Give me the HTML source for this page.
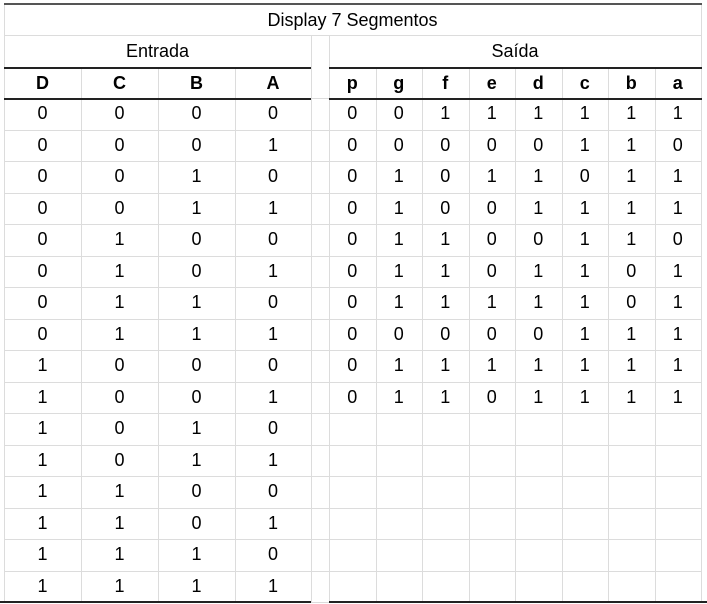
<!DOCTYPE html>
<html><head><meta charset="utf-8"><style>
body{margin:0;width:707px;height:604px;background:#fff;overflow:hidden;font-family:"Liberation Sans",Arial,sans-serif;}
#t{position:absolute;left:0;top:0;width:707px;height:604px;}
.c{position:absolute;box-sizing:border-box;display:flex;align-items:center;justify-content:center;font-size:18px;color:#000;}
.ln{position:absolute;}
</style></head><body>
<div id="t"></div>
<script>
const inputHeaders=['D','C','B','A'];
const outputHeaders=['p','g','f','e','d','c','b','a'];
const inputRows=[
'0000','0001','0010','0011','0100','0101','0110','0111',
'1000','1001','1010','1011','1100','1101','1110','1111'];
const outputRows=[
'00111111','00000110','01011011','01001111','01100110',
'01101101','01111101','00000111','01111111','01101111'];
const t=document.getElementById('t');
const inX=[4,81,158,235,311];
const outX=[329,375.5,422,468.5,515,561.5,608,654.5,701];
const rowTop=98,rowH=31.5;
function cell(x,y,w,h,txt,name,bold){
  const d=document.createElement('div');d.className='c';
  d.style.left=x+'px';d.style.top=y+'px';d.style.width=w+'px';d.style.height=h+'px';
  if(bold)d.style.fontWeight='bold';
  d.textContent=txt;
  
  
  t.appendChild(d);
}
function line(x,y,w,h,col,name){
  const d=document.createElement('div');d.className='ln';
  d.style.left=x+'px';d.style.top=y+'px';d.style.width=w+'px';d.style.height=h+'px';d.style.background=col;
  
  
  t.appendChild(d);
}
const G='#dcdcdc';
const yEnd=rowTop+16*rowH;
for(let r=0;r<=16;r++){const y=Math.round(rowTop+r*rowH);line(4,y,697,1,G,'row-line');}
line(4,35,697,1,G,'row-line');
// edge / gap lines full height from 35
[4,311,329,701].forEach(x=>line(x,35,1,yEnd-35,G,'col-line'));
// internal lines from 67
[...inX.slice(1,4),...outX.slice(1,8)].forEach(x=>line(Math.round(x),67,1,yEnd-67,G,'col-line'));
line(4,4,1,31,G,'col-line');line(701,4,1,31,G,'col-line');
line(4,3,698,2,'#555','top-border');
line(4,67,307,2,'#222','entrada-underline');line(329,67,373,2,'#222','saida-underline');
line(4,98,307,2,'#222','header-underline');line(329,98,373,2,'#222','header-underline');
line(0,yEnd-1,311,2,'#222','bottom-border');line(329,yEnd-1,378,2,'#222','bottom-border');
cell(4,5,697,30,'Display 7 Segmentos','title',false);
cell(4,35,307,32,'Entrada','entrada-header',false);
cell(329,35,372,32,'Saída','saida-header',false);
inputHeaders.forEach((h,i)=>cell(inX[i],68,inX[i+1]-inX[i],31,h,'header-'+h,true));
outputHeaders.forEach((h,i)=>cell(outX[i],68,outX[i+1]-outX[i],31,h,'header-'+h,true));
inputRows.forEach((row,r)=>{
  [...row].forEach((v,i)=>cell(inX[i],rowTop+r*rowH,inX[i+1]-inX[i],rowH,v,'input-cell',false));
});
outputRows.forEach((row,r)=>{
  [...row].forEach((v,i)=>cell(outX[i],rowTop+r*rowH,outX[i+1]-outX[i],rowH,v,'output-cell',false));
});
</script>
</body></html>
